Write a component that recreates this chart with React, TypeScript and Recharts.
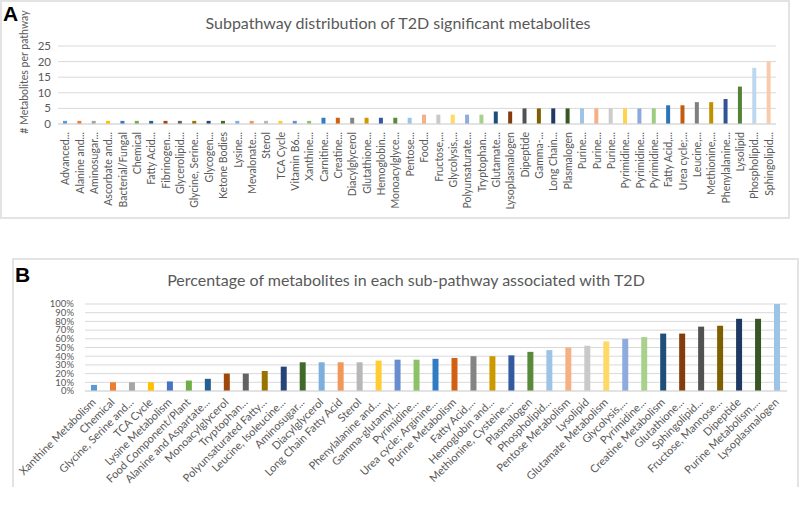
import { Bar, BarChart, CartesianGrid, Cell, XAxis, YAxis } from 'recharts'

const SUBPATHWAYS_A = [
  'Advanced...', 'Alanine and...', 'Aminosugar...', 'Ascorbate and...', 'Bacterial/Fungal',
  'Chemical', 'Fatty Acid...', 'Fibrinogen...', 'Glycerolipid...', 'Glycine, Serine...',
  'Glycogen...', 'Ketone Bodies', 'Lysine...', 'Mevalonate...', 'Sterol',
  'TCA Cycle', 'Vitamin B6...', 'Xanthine...', 'Carnitine...', 'Creatine...',
  'Diacylglycerol', 'Glutathione...', 'Hemoglobin...', 'Monoacylglyce...', 'Pentose...',
  'Food...', 'Fructose,...', 'Glycolysis,...', 'Polyunsaturate...', 'Tryptophan...',
  'Glutamate...', 'Lysoplasmalogen', 'Dipeptide', 'Gamma-...', 'Long Chain...',
  'Plasmalogen', 'Purine...', 'Purine...', 'Purine...', 'Pyrimidine...',
  'Pyrimidine...', 'Pyrimidine...', 'Fatty Acid,...', 'Urea cycle;...', 'Leucine,...',
  'Methionine,...', 'Phenylalanine...', 'Lysolipid', 'Phospholipid...', 'Sphingolipid...',
]
const COUNTS_A = [
  1, 1, 1, 1, 1, 1, 1, 1, 1, 1,
  1, 1, 1, 1, 1, 1, 1, 1, 2, 2,
  2, 2, 2, 2, 2, 3, 3, 3, 3, 3,
  4, 4, 5, 5, 5, 5, 5, 5, 5, 5,
  5, 5, 6, 6, 7, 7, 8, 12, 18, 20,
]
const TICKS_A = [0, 5, 10, 15, 20, 25]

const SUBPATHWAYS_B = [
  'Xanthine Metabolism', 'Chemical', 'Glycine, Serine and...', 'TCA Cycle', 'Lysine Metabolism',
  'Food Component/Plant', 'Alanine and Aspartate...', 'Monoacylglycerol', 'Tryptophan...', 'Polyunsaturated Fatty...',
  'Leucine, Isoleucine...', 'Aminosugar...', 'Diacylglycerol', 'Long Chain Fatty Acid', 'Sterol',
  'Phenylalanine and...', 'Gamma-glutamyl...', 'Pyrimidine...', 'Urea cycle; Arginine...', 'Purine Metabolism',
  'Fatty Acid,...', 'Hemoglobin and...', 'Methionine, Cysteine,...', 'Plasmalogen', 'Phospholipid...',
  'Pentose Metabolism', 'Lysolipid', 'Glutamate Metabolism', 'Glycolysis,...', 'Pyrimidine...',
  'Creatine Metabolism', 'Glutathione...', 'Sphingolipid...', 'Fructose, Mannose...', 'Dipeptide',
  'Purine Metabolism,...', 'Lysoplasmalogen',
]
const SHARE_B = [
  0.07, 0.1, 0.1, 0.1, 0.11, 0.12, 0.14, 0.2, 0.2, 0.23,
  0.28, 0.33, 0.33, 0.33, 0.33, 0.35, 0.36, 0.36, 0.37, 0.38,
  0.4, 0.4, 0.41, 0.45, 0.47, 0.5, 0.52, 0.57, 0.6, 0.62,
  0.66, 0.66, 0.74, 0.75, 0.83, 0.83, 1.0,
]
const TICKS_B = [0, 0.1, 0.2, 0.3, 0.4, 0.5, 0.6, 0.7, 0.8, 0.9, 1]

// excel "vary colors by point" order
const PALETTE = [
  '#5B9BD5', '#ED7D31', '#A5A5A5', '#FFC000', '#4472C4', '#70AD47',
  '#255E91', '#9E480E', '#636363', '#997300', '#264478', '#43682B',
  '#7CAFDD', '#F1975A', '#B7B7B7', '#FFCD33', '#698ED0', '#8CC168',
  '#327DC2', '#D26012', '#848484', '#CC9A00', '#335AA1', '#5A8A39',
  '#9DC3E6', '#F4B183', '#C9C9C9', '#FFD966', '#8FAADC', '#A9D18E',
  '#1F4E79', '#843C0C', '#525252', '#7F6000', '#203864', '#385723',
  '#9DC3E6', '#F4B183', '#CCCCCC', '#FFD34D', '#8DA9DB', '#9DCB7F',
  '#2E75B6', '#C55A11', '#7F7F7F', '#BF9000', '#2F5597', '#548235',
  '#BDD7EE', '#F8CBAD',
]

const FONT = 'Lato, "Open Sans", sans-serif'
const GREY = '#595959'

const dataA = SUBPATHWAYS_A.map((name, i) => ({ name, count: COUNTS_A[i] }))
const dataB = SUBPATHWAYS_B.map((name, i) => ({ name, share: SHARE_B[i] }))

function VerticalTick({ x, y, payload }: any) {
  return (
    <text
      x={x}
      y={y + 6}
      transform={`rotate(-90 ${x} ${y + 6})`}
      textAnchor="end"
      dominantBaseline="central"
      fill={GREY}
      fontSize={10.5}
      fontFamily={FONT}
    >
      {payload.value}
    </text>
  )
}

function SlantTick({ x, y, payload }: any) {
  const tx = x + 2
  const ty = y + 10
  return (
    <text
      x={tx}
      y={ty}
      transform={`rotate(-45 ${tx} ${ty})`}
      textAnchor="end"
      fill={GREY}
      fontSize={11}
      fontFamily={FONT}
    >
      {payload.value}
    </text>
  )
}

const panelLetter = {
  position: 'absolute' as const,
  fontFamily: '"Liberation Sans", Arial, sans-serif',
  fontWeight: 700,
  fontSize: 21,
  color: '#000',
  lineHeight: 1,
}

const title = {
  position: 'absolute' as const,
  transform: 'translate(-50%, -50%)',
  fontFamily: FONT,
  fontSize: 16,
  color: GREY,
  whiteSpace: 'nowrap' as const,
}

export default function App() {
  return (
    <div style={{ position: 'absolute', left: 0, top: 0, width: 800, height: 514, background: '#fff', overflow: 'hidden' }}>
      {/* panel A */}
      <div style={{ position: 'absolute', left: 0, top: 0, width: 790, height: 219, border: '2px solid #e3e3e3', boxSizing: 'border-box' }} />
      <div style={{ position: 'absolute', left: 0, top: 0 }}>
        <BarChart width={790} height={218} data={dataA} margin={{ top: 46, right: 14, left: 0, bottom: 0 }}>
          <CartesianGrid stroke="#d9d9d9" vertical={false} />
          <XAxis
            dataKey="name"
            interval={0}
            height={94}
            tick={<VerticalTick />}
            tickLine={false}
            tickSize={0}
            axisLine={{ stroke: '#d9d9d9' }}
          />
          <YAxis
            width={58}
            domain={[0, 25]}
            ticks={TICKS_A}
            interval={0}
            tick={{ fill: GREY, fontSize: 11.5, fontFamily: FONT }}
            tickLine={false}
            tickSize={0}
            tickMargin={7}
            axisLine={false}
          />
          <Bar dataKey="count" barSize={4} isAnimationActive={false}>
            {dataA.map((d, i) => (
              <Cell key={d.name + i} fill={PALETTE[i]} />
            ))}
          </Bar>
        </BarChart>
      </div>
      <div style={{ ...panelLetter, left: 3, top: 3 }}>A</div>
      <div style={{ ...title, left: 398, top: 22 }}>Subpathway distribution of T2D significant metabolites</div>
      <div
        style={{
          position: 'absolute',
          left: 24,
          top: 72,
          transform: 'translate(-50%, -50%) rotate(-90deg)',
          fontFamily: FONT,
          fontSize: 10.5,
          color: GREY,
          whiteSpace: 'nowrap',
        }}
      >
        # Metabolites per pathway
      </div>

      {/* panel B */}
      <div
        style={{
          position: 'absolute',
          left: 12,
          top: 258,
          width: 787,
          height: 229,
          borderTop: '2px solid #e3e3e3',
          borderLeft: '2px solid #e3e3e3',
          borderRight: '2px solid #e3e3e3',
          boxSizing: 'border-box',
        }}
      />
      <div style={{ position: 'absolute', left: 12, top: 258 }}>
        <BarChart width={787} height={229} data={dataB} margin={{ top: 46, right: 12, left: 0, bottom: 0 }}>
          <CartesianGrid stroke="#d9d9d9" vertical={false} />
          <XAxis
            dataKey="name"
            interval={0}
            height={96}
            tick={<SlantTick />}
            tickLine={false}
            tickSize={0}
            axisLine={{ stroke: '#d9d9d9' }}
          />
          <YAxis
            width={73}
            domain={[0, 1]}
            ticks={TICKS_B}
            interval={0}
            tickFormatter={(v: number) => `${Math.round(v * 100)}%`}
            tick={{ fill: GREY, fontSize: 9.5, fontFamily: FONT }}
            tickLine={false}
            tickSize={0}
            tickMargin={11}
            axisLine={false}
          />
          <Bar dataKey="share" barSize={6} isAnimationActive={false}>
            {dataB.map((d, i) => (
              <Cell key={d.name + i} fill={PALETTE[i]} />
            ))}
          </Bar>
        </BarChart>
      </div>
      <div style={{ ...panelLetter, left: 15, top: 264 }}>B</div>
      <div style={{ ...title, left: 406, top: 279 }}>Percentage of metabolites in each sub-pathway associated with T2D</div>
    </div>
  )
}
